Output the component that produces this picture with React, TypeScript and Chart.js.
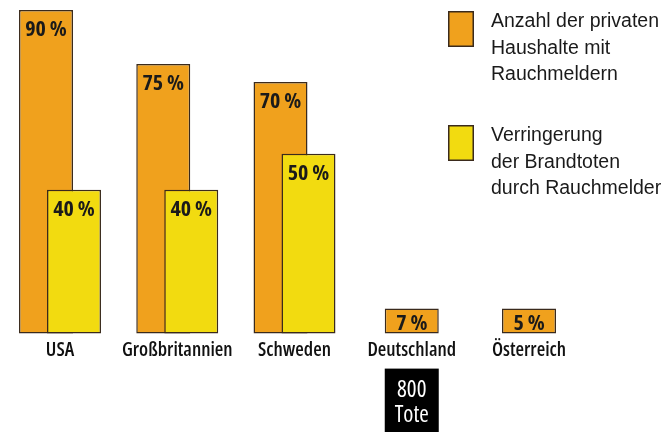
import React, { useEffect, useRef } from 'react';
import { Chart, registerables } from 'chart.js';

Chart.register(...registerables);

const categories = ['USA', 'Großbritannien', 'Schweden', 'Deutschland', 'Österreich'];
const households = [90, 75, 70, 7, 5];
const reduction: (number | null)[] = [40, 40, 50, null, null];
const legendHouseholds = ['Anzahl der privaten', 'Haushalte mit', 'Rauchmeldern'];
const legendReduction = ['Verringerung', 'der Brandtoten', 'durch Rauchmelder'];
const noteLines = ['800', 'Tote'];
const noteCategory = 'Deutschland';

const ORANGE = '#F0A11D';
const YELLOW = '#F2DB10';
const EDGE = '#3a2a1c';
const FAMILY = "'Open Sans', 'Liberation Sans', sans-serif";
const LEGEND_FAMILY = "'Liberation Sans', Arial, sans-serif";

const setFont = (ctx: any, spec: string, stretch: string) => {
  ctx.font = spec;
  try { ctx.fontStretch = stretch; } catch (e) { /* ignore */ }
};

const customPlugin = {
  id: 'custom',
  beforeDatasetsDraw(chart: any) {
    // draw the first series underneath the second
    chart.getDatasetMeta(0).controller.draw();
  },
  beforeDatasetDraw(_chart: any, args: any) {
    if (args.index === 0) return false;
    return true;
  },
  afterDatasetsDraw(chart: any) {
    const ctx = chart.ctx as any;
    ctx.save();
    // value labels
    setFont(ctx, `bold 22px ${FAMILY}`, 'condensed');
    ctx.fillStyle = '#1a1a1a';
    ctx.textAlign = 'center';
    ctx.textBaseline = 'alphabetic';
    chart.data.datasets.forEach((ds: any, di: number) => {
      const meta = chart.getDatasetMeta(di);
      meta.data.forEach((el: any, i: number) => {
        const v = ds.data[i];
        if (v == null) return;
        const p = el.getProps(['x', 'y', 'base'], true);
        const by = Math.min(p.y + 26, p.base - 4);
        ctx.fillText(`${v} %`, p.x, by);
      });
    });

    // note box under Deutschland
    const idx = categories.indexOf(noteCategory);
    const bar = chart.getDatasetMeta(0).data[idx];
    if (bar) {
      const p = bar.getProps(['x', 'width'], true);
      const top = chart.chartArea.bottom + 35;
      ctx.fillStyle = '#000';
      ctx.fillRect(p.x - p.width / 2, top, p.width, chart.height - top);
      ctx.fillStyle = '#fff';
      setFont(ctx, `23px ${FAMILY}`, 'condensed');
      noteLines.forEach((t, k) => ctx.fillText(t, p.x, top + 28 + k * 25));
    }

    // legend
    const drawItem = (color: string, y: number, lines: string[]) => {
      ctx.fillStyle = color;
      ctx.fillRect(448, y, 26, 36);
      ctx.strokeStyle = EDGE;
      ctx.lineWidth = 1.5;
      ctx.strokeRect(448.75, y + 0.75, 24.5, 34.5);
      ctx.fillStyle = '#1a1a1a';
      setFont(ctx, `19.5px ${LEGEND_FAMILY}`, 'normal');
      ctx.textAlign = 'left';
      lines.forEach((t, k) => ctx.fillText(t, 491, y + 16 + k * 26.5));
    };
    drawItem(ORANGE, 11, legendHouseholds);
    drawItem(YELLOW, 125, legendReduction);
    ctx.restore();
  },
};

export default function App() {
  const ref = useRef<HTMLCanvasElement>(null);
  useEffect(() => {
    const common = {
      borderColor: EDGE,
      borderWidth: 1.5,
      borderSkipped: false as const,
      categoryPercentage: 0.4774,
      barPercentage: 1.9286,
      maxBarThickness: 54,
      skipNull: true,
      minBarLength: 25,
      clip: false as const,
    };
    const chart = new Chart(ref.current!, {
      type: 'bar',
      data: {
        labels: categories,
        datasets: [
          { label: legendHouseholds.join(' '), data: households, backgroundColor: ORANGE, ...common },
          { label: legendReduction.join(' '), data: reduction as any, backgroundColor: YELLOW, ...common },
        ],
      },
      options: {
        responsive: false,
        animation: false,
        layout: { padding: { left: 60, right: 143, top: 10, bottom: 65 } },
        plugins: { legend: { display: false }, tooltip: { enabled: false } },
        scales: {
          x: {
            type: 'category',
            offset: false,
            grid: { display: false, drawTicks: false },
            border: { display: false },
            ticks: {
              color: '#111',
              font: { family: FAMILY, size: 19.5, weight: '550 condensed' as any },
              padding: 5,
              maxRotation: 0,
              autoSkip: false,
            },
          },
          y: { display: false, min: 0, max: 90 },
        },
      },
      plugins: [customPlugin],
    });
    return () => chart.destroy();
  }, []);
  return (
    <div style={{ position: 'fixed', left: 0, top: 0, width: 672, height: 432, background: '#fff' }}>
      <canvas ref={ref} width={672} height={432} style={{ display: 'block' }} />
    </div>
  );
}
